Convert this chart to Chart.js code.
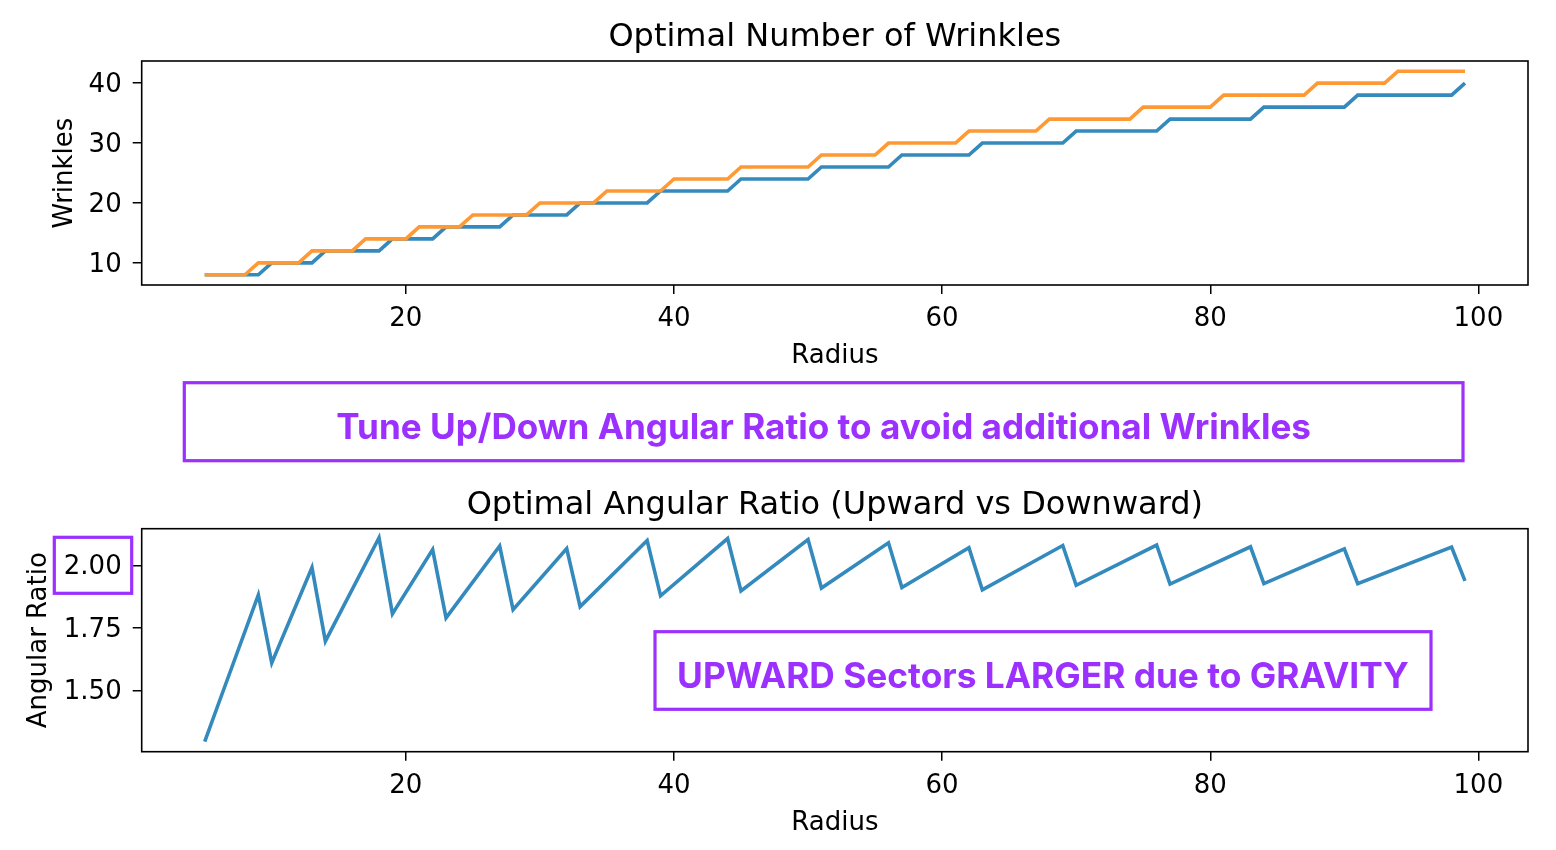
<!DOCTYPE html>
<html>
<head>
<meta charset="utf-8">
<script src="https://cdn.jsdelivr.net/npm/chart.js@4.4.1/dist/chart.umd.min.js"></script>
<style>
  html, body { margin: 0; padding: 0; background: #fff; }
  #wrap { position: relative; width: 1556px; height: 850px; }
  canvas { position: absolute; left: 0; }
</style>
</head>
<body>
<div id="wrap">
  <canvas id="wrinkleChart" width="1556" height="380" style="top:0"></canvas>
  <canvas id="ratioChart" width="1556" height="470" style="top:380px"></canvas>
</div>
<script>
// radius 5..99
const radius = [
  5, 6, 7, 8, 9, 10, 11, 12, 13, 14, 15, 16, 17, 18, 19, 20, 21, 22, 23, 24,
  25, 26, 27, 28, 29, 30, 31, 32, 33, 34, 35, 36, 37, 38, 39, 40, 41, 42, 43, 44,
  45, 46, 47, 48, 49, 50, 51, 52, 53, 54, 55, 56, 57, 58, 59, 60, 61, 62, 63, 64,
  65, 66, 67, 68, 69, 70, 71, 72, 73, 74, 75, 76, 77, 78, 79, 80, 81, 82, 83, 84,
  85, 86, 87, 88, 89, 90, 91, 92, 93, 94, 95, 96, 97, 98, 99
];
const wrinklesBlue = [
  8, 8, 8, 8, 8, 10, 10, 10, 10, 12, 12, 12, 12, 12, 14, 14, 14, 14, 16, 16,
  16, 16, 16, 18, 18, 18, 18, 18, 20, 20, 20, 20, 20, 20, 22, 22, 22, 22, 22, 22,
  24, 24, 24, 24, 24, 24, 26, 26, 26, 26, 26, 26, 28, 28, 28, 28, 28, 28, 30, 30,
  30, 30, 30, 30, 30, 32, 32, 32, 32, 32, 32, 32, 34, 34, 34, 34, 34, 34, 34, 36,
  36, 36, 36, 36, 36, 36, 38, 38, 38, 38, 38, 38, 38, 38, 40
];
const wrinklesOrange = [
  8, 8, 8, 8, 10, 10, 10, 10, 12, 12, 12, 12, 14, 14, 14, 14, 16, 16, 16, 16,
  18, 18, 18, 18, 18, 20, 20, 20, 20, 20, 22, 22, 22, 22, 22, 24, 24, 24, 24, 24,
  26, 26, 26, 26, 26, 26, 28, 28, 28, 28, 28, 30, 30, 30, 30, 30, 30, 32, 32, 32,
  32, 32, 32, 34, 34, 34, 34, 34, 34, 34, 36, 36, 36, 36, 36, 36, 38, 38, 38, 38,
  38, 38, 38, 40, 40, 40, 40, 40, 40, 42, 42, 42, 42, 42, 42
];

// bottom panel: turning points of the sawtooth
const ratioRadius = [5, 6, 9, 10, 13, 14, 18, 19, 22, 23, 27, 28, 32, 33, 38, 39,
  44, 45, 50, 51, 56, 57, 62, 63, 69, 70, 76, 77, 83, 84, 90, 91, 98, 99];
const angularRatio = [1.296, 1.443, 1.882, 1.610, 1.991, 1.697, 2.110, 1.806,
  2.063, 1.790, 2.077, 1.823, 2.067, 1.835, 2.099, 1.878, 2.107, 1.898, 2.103, 1.909,
  2.090, 1.911, 2.070, 1.902, 2.079, 1.920, 2.081, 1.925, 2.074, 1.927, 2.066, 1.927,
  2.073, 1.938];

const xTicks = [20, 40, 60, 80, 100];
const wrinkleTicks = [10, 20, 30, 40];
const ratioTicks = [1.50, 1.75, 2.00];

const blue = '#348ABD';
const orange = '#FF9933';
const purple = '#9B30FF';
const font = 'DejaVu Sans';

const toPoints = (xs, ys) => xs.map((x, i) => ({ x: x, y: ys[i] }));

// axes title above each panel, centred on the plot area like matplotlib
const panelTitle = {
  id: 'panelTitle',
  afterDraw(chart, args, opts) {
    const { ctx, chartArea } = chart;
    ctx.save();
    ctx.font = `32px "${font}"`;
    ctx.fillStyle = '#000';
    ctx.textAlign = 'center';
    ctx.textBaseline = 'alphabetic';
    ctx.fillText(opts.text, (chartArea.left + chartArea.right) / 2, chartArea.top - 15);
    ctx.restore();
  }
};

// full black frame round the plot area
const frame = {
  id: 'frame',
  afterDatasetsDraw(chart) {
    const { ctx, chartArea: a } = chart;
    ctx.save();
    ctx.strokeStyle = '#000';
    ctx.lineWidth = 1.6;
    ctx.strokeRect(a.left, a.top, a.right - a.left, a.bottom - a.top);
    ctx.restore();
  }
};

function drawCallout(ctx, x0, y0, x1, y1, text, textWidth, baseline) {
  ctx.strokeRect(x0, y0, x1 - x0, y1 - y0);
  if (!text) return;
  ctx.font = `bold 40px Inter`;
  const size = 40 * textWidth / ctx.measureText(text).width;
  ctx.font = `bold ${size}px Inter`;
  ctx.textAlign = 'center';
  ctx.textBaseline = 'alphabetic';
  ctx.fillText(text, (x0 + x1) / 2, baseline);
}

const callouts = {
  id: 'callouts',
  afterDraw(chart) {
    const ctx = chart.ctx;
    const y2 = chart.scales.y.getPixelForValue(2.0);
    ctx.save();
    ctx.strokeStyle = purple;
    ctx.fillStyle = purple;
    ctx.lineWidth = 3.2;
    drawCallout(ctx, 184.3, 2.7, 1463, 80.7,
      'Tune Up/Down Angular Ratio to avoid additional Wrinkles', 975, 59);
    drawCallout(ctx, 655, 251.7, 1431, 329.3,
      'UPWARD Sectors LARGER due to GRAVITY', 732, 308);
    drawCallout(ctx, 54.3, y2 - 28, 131.7, y2 + 28);
    ctx.restore();
  }
};

function xAxis(boxHeight, titlePad) {
  return {
    type: 'linear',
    min: 0.3,
    max: 103.7,
    afterBuildTicks: s => { s.ticks = xTicks.map(v => ({ value: v })); },
    afterFit: s => { s.height = boxHeight; },
    grid: { drawOnChartArea: false, drawTicks: true, tickLength: 9, color: '#000', lineWidth: 1.5 },
    border: { display: false },
    ticks: { color: '#000', font: { family: font, size: 26 }, padding: 10, maxRotation: 0 },
    title: {
      display: true, text: 'Radius', color: '#000',
      font: { family: font, size: 26 }, padding: { top: 0, bottom: titlePad }
    }
  };
}

function yAxis(min, max, ticks, label, titlePad, fmt) {
  return {
    type: 'linear',
    min: min,
    max: max,
    afterBuildTicks: s => { s.ticks = ticks.map(v => ({ value: v })); },
    afterFit: s => { s.width = 141.7; },
    grid: { drawOnChartArea: false, drawTicks: true, tickLength: 9, color: '#000', lineWidth: 1.5 },
    border: { display: false },
    ticks: {
      color: '#000', font: { family: font, size: 26 }, padding: 11, labelOffset: 2,
      callback: v => fmt(v)
    },
    title: {
      display: true, text: label, color: '#000',
      font: { family: font, size: 26 }, padding: { top: titlePad, bottom: 0 }
    }
  };
}

new Chart(document.getElementById('wrinkleChart'), {
  type: 'line',
  data: {
    datasets: [
      {
        label: 'wrinkles A',
        data: toPoints(radius, wrinklesBlue),
        borderColor: blue,
        borderWidth: 3.6,
        pointRadius: 0,
        tension: 0,
        order: 2
      },
      {
        label: 'wrinkles B',
        data: toPoints(radius, wrinklesOrange),
        borderColor: orange,
        borderWidth: 3.6,
        pointRadius: 0,
        tension: 0,
        order: 1
      }
    ]
  },
  options: {
    responsive: false,
    animation: false,
    layout: { padding: { top: 61, right: 28, bottom: 0, left: 0 } },
    scales: {
      x: xAxis(95, 8.4),
      y: yAxis(6.3, 43.7, wrinkleTicks, 'Wrinkles', 50, v => String(v))
    },
    plugins: {
      legend: { display: false },
      tooltip: { enabled: false },
      panelTitle: { text: 'Optimal Number of Wrinkles' }
    }
  },
  plugins: [panelTitle, frame]
});

new Chart(document.getElementById('ratioChart'), {
  type: 'line',
  data: {
    datasets: [{
      label: 'Angular Ratio',
      data: toPoints(ratioRadius, angularRatio),
      borderColor: blue,
      borderWidth: 3.6,
      pointRadius: 0,
      tension: 0
    }]
  },
  options: {
    responsive: false,
    animation: false,
    layout: { padding: { top: 148.7, right: 28, bottom: 0, left: 0 } },
    scales: {
      x: xAxis(98.3, 11.4),
      y: yAxis(1.2555, 2.1462, ratioTicks, 'Angular Ratio', 24, v => v.toFixed(2))
    },
    plugins: {
      legend: { display: false },
      tooltip: { enabled: false },
      panelTitle: { text: 'Optimal Angular Ratio (Upward vs Downward)' }
    }
  },
  plugins: [panelTitle, frame, callouts]
});
</script>
</body>
</html>
